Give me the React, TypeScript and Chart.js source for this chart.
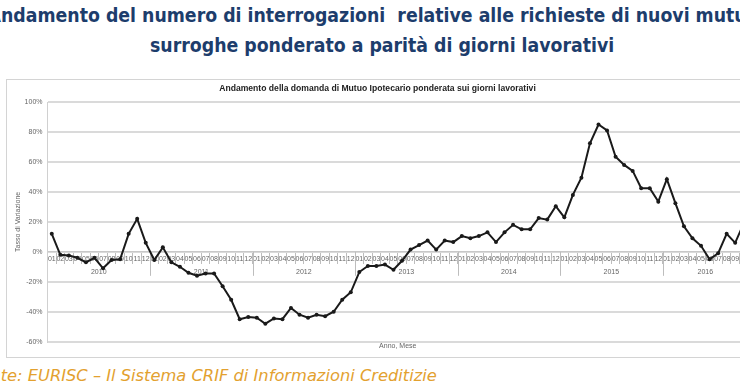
import React, { useEffect, useRef } from "react";
import { Chart, registerables } from "chart.js";

Chart.register(...registerables);

const PAGE_TITLE_FIRST_LETTER = "A";
const PAGE_TITLE_LINE1 = "ndamento del numero di interrogazioni  relative alle richieste di nuovi mutui e";
const PAGE_TITLE_LINE2 = "surroghe ponderato a parità di giorni lavorativi";
const CHART_TITLE = "Andamento della domanda di Mutuo Ipotecario ponderata sui giorni lavorativi";
const SOURCE_TEXT = "Fonte: EURISC – Il Sistema CRIF di Informazioni Creditizie";
const Y_TITLE = "Tasso di Variazione";
const X_TITLE = "Anno, Mese";

const YEARS = ["2010", "2011", "2012", "2013", "2014", "2015", "2016"];
const MONTHS = ["01", "02", "03", "04", "05", "06", "07", "08", "09", "10", "11", "12"];
const LAST_YEAR_MONTHS = 10;

const Y_MIN = -60;
const Y_MAX = 100;
const Y_STEP = 20;

// Tasso di variazione (%) by month, Jan 2010 .. Oct 2016
const VALUES_2010 = [12, -2, -2.5, -4, -7, -4, -11, -5.5, -5, 12, 22, 6];
const VALUES_2011 = [-5.5, 3, -7, -10, -14, -16, -14.5, -14.5, -23, -32, -45, -43.5];
const VALUES_2012 = [-44, -48, -44.5, -45, -37.5, -42, -44, -42, -43, -40, -32, -27];
const VALUES_2013 = [-13.5, -9.5, -9.5, -8.5, -12, -6, 1.5, 4.5, 7.5, 1.5, 7.5, 6.5];
const VALUES_2014 = [10.5, 9, 10.5, 13, 6.5, 13, 18, 15, 15, 22.5, 21.5, 30.5];
const VALUES_2015 = [23, 38, 49.5, 72.5, 85, 81, 63.5, 58, 54, 42.5, 42.5, 33.5];
const VALUES_2016 = [48.5, 32.5, 17, 9, 4, -5, -1, 12, 6, 19];

const VALUES = [
  ...VALUES_2010,
  ...VALUES_2011,
  ...VALUES_2012,
  ...VALUES_2013,
  ...VALUES_2014,
  ...VALUES_2015,
  ...VALUES_2016,
];

const CATEGORIES: string[] = [];
YEARS.forEach((y, k) => {
  const n = k === YEARS.length - 1 ? LAST_YEAR_MONTHS : 12;
  MONTHS.slice(0, n).forEach((m) => CATEGORIES.push(y + "-" + m));
});

const AXIS_FONT = '"Liberation Sans", Arial, sans-serif';

const yearAxisPlugin = {
  id: "yearAxis",
  beforeDatasetsDraw(chart: any) {
    const { ctx, scales } = chart;
    const x = scales.x;
    const y = scales.y;
    const y0 = y.getPixelForValue(0);
    const half = (x.getPixelForValue(1) - x.getPixelForValue(0)) / 2;
    ctx.save();
    ctx.strokeStyle = "#bdbdbd";
    ctx.lineWidth = 1;
    ctx.fillStyle = "#666";
    ctx.font = "7px " + AXIS_FONT;
    ctx.textAlign = "center";
    ctx.textBaseline = "middle";
    let start = 0;
    YEARS.forEach((yr, k) => {
      const count = k === YEARS.length - 1 ? LAST_YEAR_MONTHS : 12;
      const end = start + count - 1;
      const leftEdge = x.getPixelForValue(start) - half;
      if (k > 0) {
        const px = Math.round(leftEdge) + 0.5;
        ctx.beginPath();
        ctx.moveTo(px, y0);
        ctx.lineTo(px, y0 + 24);
        ctx.stroke();
      }
      const cx = (x.getPixelForValue(start) + x.getPixelForValue(end)) / 2;
      ctx.fillText(yr, cx, y0 + 20);
      start += count;
    });
    ctx.restore();
  },
};

function LineChart() {
  const ref = useRef<HTMLCanvasElement | null>(null);
  useEffect(() => {
    if (!ref.current) return;
    const chart = new Chart(ref.current, {
      type: "line",
      data: {
        labels: CATEGORIES,
        datasets: [
          {
            data: VALUES,
            borderColor: "#1a1a1a",
            backgroundColor: "#1a1a1a",
            borderWidth: 2,
            pointRadius: 2,
            pointBorderWidth: 0,
            pointBackgroundColor: "#1a1a1a",
            tension: 0,
            xAxisID: "x",
          },
        ],
      },
      plugins: [yearAxisPlugin],
      options: {
        responsive: false,
        animation: false,
        events: [],
        layout: { padding: { left: 0, right: 7, top: 0, bottom: 0 } },
        plugins: {
          legend: { display: false },
          tooltip: { enabled: false },
          title: {
            display: true,
            text: CHART_TITLE,
            color: "#222",
            font: { family: AXIS_FONT, size: 8.6, weight: "bold" },
            padding: { top: 3, bottom: 8.7 },
          },
        },
        scales: {
          x: {
            type: "category",
            position: { y: 0 } as any,
            offset: true,
            grid: {
              display: true,
              drawOnChartArea: false,
              drawTicks: true,
              tickLength: 12,
              offset: true,
              color: "#bdbdbd",
              lineWidth: 1,
            },
            border: { display: true, color: "#c8c8c8", width: 1 },
            ticks: {
              autoSkip: false,
              maxRotation: 0,
              minRotation: 0,
              padding: -9,
              color: "#666",
              font: { family: AXIS_FONT, size: 7 },
              callback: function (this: any, value: any) {
                const lbl = String(this.getLabelForValue(value));
                return lbl.split("-")[1];
              },
            },
          },
          xt: {
            type: "category",
            position: "bottom",
            offset: true,
            grid: { display: false, drawTicks: false },
            border: { display: false },
            ticks: { display: false },
            title: {
              display: true,
              text: X_TITLE,
              color: "#666",
              font: { family: AXIS_FONT, size: 7 },
              padding: { top: 0, bottom: 6.9 },
            },
          },
          y: {
            type: "linear",
            min: Y_MIN,
            max: Y_MAX,
            afterFit: (scale: any) => {
              scale.width = 40.5;
            },
            grid: {
              color: "#dadada",
              lineWidth: 2,
              drawTicks: false,
            },
            border: { display: true, color: "#d0d0d0", width: 1 },
            ticks: {
              stepSize: Y_STEP,
              padding: 5,
              color: "#666",
              font: { family: AXIS_FONT, size: 7 },
              callback: (v: any) => v + "%",
            },
            title: {
              display: true,
              text: Y_TITLE,
              color: "#666",
              font: { family: AXIS_FONT, size: 7 },
              padding: { top: 7, bottom: 0 },
            },
          },
        },
      },
    });
    return () => chart.destroy();
  }, []);
  return (
    <canvas
      ref={ref}
      width={748}
      height={277}
      style={{ display: "block", width: 748, height: 277 }}
    />
  );
}

export default function App() {
  const titleStyle: React.CSSProperties = {
    position: "absolute",
    whiteSpace: "pre",
    fontFamily: '"DejaVu Sans Condensed", "DejaVu Sans", sans-serif',
    fontWeight: "bold",
    fontSize: 19.3,
    lineHeight: "22px",
    color: "#1d3d6c",
  };
  return (
    <div
      style={{
        position: "fixed",
        left: 0,
        top: 0,
        width: 740,
        height: 389,
        overflow: "hidden",
        background: "#fff",
      }}
    >
      <div style={{ ...titleStyle, left: 1, top: 5 }}>
        <span style={{ position: "absolute", right: "100%", top: 0 }}>{PAGE_TITLE_FIRST_LETTER}</span>
        {PAGE_TITLE_LINE1}
      </div>
      <div style={{ ...titleStyle, left: 150, top: 35 }}>{PAGE_TITLE_LINE2}</div>
      <div
        style={{
          position: "absolute",
          left: 6,
          top: 79,
          width: 750,
          height: 279,
          border: "1px solid #d4d4d4",
          boxSizing: "border-box",
          background: "#fff",
        }}
      >
        <LineChart />
      </div>
      <div
        style={{
          position: "absolute",
          left: -29,
          top: 366,
          whiteSpace: "nowrap",
          fontFamily: '"DejaVu Sans", Verdana, sans-serif',
          fontStyle: "italic",
          fontSize: 16.3,
          lineHeight: "20px",
          color: "#e3a12f",
        }}
      >
        {SOURCE_TEXT}
      </div>
    </div>
  );
}
